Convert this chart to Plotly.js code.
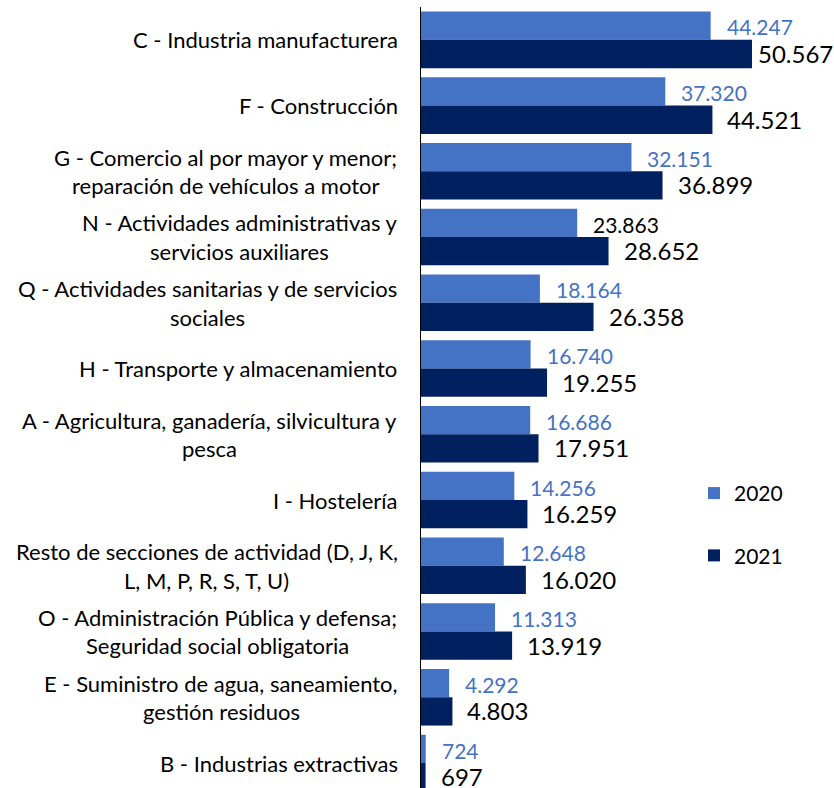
<!DOCTYPE html>
<html>
<head>
<meta charset="utf-8">
<script src="https://cdn.plot.ly/plotly-3.0.1.min.js"></script>
<style>html,body{margin:0;padding:0;background:#fff;overflow:hidden}</style>
</head>
<body>
<div id="chart" style="width:834px;height:788px"></div>
<script>
const categories = [
  "C - Industria manufacturera",
  "F - Construcción",
  "G - Comercio al por mayor y menor;<br>reparación de vehículos a motor",
  "N - Actividades administrativas y<br>servicios auxiliares",
  "Q - Actividades sanitarias y de servicios<br>sociales",
  "H - Transporte y almacenamiento",
  "A - Agricultura, ganadería, silvicultura y<br>pesca",
  "I - Hostelería",
  "Resto de secciones de actividad (D, J, K,<br>L, M, P, R, S, T, U)",
  "O - Administración Pública y defensa;<br>Seguridad social obligatoria",
  "E - Suministro de agua, saneamiento,<br>gestión residuos",
  "B - Industrias extractivas"
];
const series2020 = [44247, 37320, 32151, 23863, 18164, 16740, 16686, 14256, 12648, 11313, 4292, 724];
const series2021 = [50567, 44521, 36899, 28652, 26358, 19255, 17951, 16259, 16020, 13919, 4803, 697];
const seriesNames = ["2020", "2021"];

// styles
const W = 834, H = 788;
const margin = {l: 421, r: 1, t: 7, b: 0};
const xMax = 62940;
const col2020 = "#4472C4", col2021 = "#002060";
const labelCol2020 = series2020.map((v, i) => i === 3 ? "#000000" : col2020);
const FONT = "Lato, 'Open Sans', sans-serif";
const CAT_SIZE = 22;

function fmt(v) {
  return String(v).replace(/\B(?=(\d{3})+(?!\d))/g, ".");
}

const plotW = W - margin.l - margin.r;
const annotations = [];

// value labels
function addValueLabels(vals, colors, size, yshift, xshift) {
  vals.forEach((v, i) => {
    const txt = fmt(v);
    const endPx = v / xMax * plotW;
    const estW = txt.length * size * 0.5;
    if (endPx + xshift + estW > plotW) {
      annotations.push({xref: "paper", yref: "y", x: 1, y: categories[i], xanchor: "right",
        text: txt, showarrow: false, yshift: yshift, xshift: 2,
        font: {family: FONT, size: size, color: colors[i]}});
    } else {
      annotations.push({xref: "x", yref: "y", x: v, y: categories[i], xanchor: "left",
        text: txt, showarrow: false, xshift: xshift, yshift: yshift,
        font: {family: FONT, size: size, color: colors[i]}});
    }
  });
}
addValueLabels(series2020, labelCol2020, 21, 13, 14);
addValueLabels(series2021, series2021.map(() => "#000000"), 24, -13.5, 13);

// category labels (centered lines, block right-aligned)
const lineGap = 28.5;
categories.forEach((c) => {
  const lines = c.split("<br>");
  const n = lines.length;
  lines.forEach((ln, k) => {
    annotations.push({xref: "paper", yref: "y", x: 0, y: c, xanchor: "center",
      text: ln, showarrow: false,
      xshift: 0, yshift: ((n - 1) / 2 - k) * lineGap,
      font: {family: FONT, size: CAT_SIZE, color: "#000000"},
      _block: c});
  });
});

const traces = [
  {type: "bar", orientation: "h", name: seriesNames[0], x: series2020, y: categories,
   marker: {color: col2020}, legendgroup: "a", hoverinfo: "x+y"},
  {type: "bar", orientation: "h", name: seriesNames[1], x: series2021, y: categories,
   marker: {color: col2021}, legendgroup: "b", hoverinfo: "x+y"}
];

const layout = {
  width: W, height: H, margin: margin,
  paper_bgcolor: "#ffffff", plot_bgcolor: "#ffffff",
  barmode: "group", bargap: 0.14, bargroupgap: 0,
  font: {family: FONT, size: 19, color: "#000000"},
  xaxis: {visible: false, range: [0, xMax], fixedrange: true},
  yaxis: {type: "category", categoryarray: categories, range: [11.38, -0.5],
    showticklabels: false, showgrid: false, zeroline: false, ticks: "",
    showline: true, linecolor: "#000000", linewidth: 1.5, fixedrange: true},
  showlegend: true,
  legend: {x: 0.6626, y: 0.4034, xanchor: "left", yanchor: "top",
    font: {family: FONT, size: 21, color: "#000000"}, tracegroupgap: 32,
    bgcolor: "rgba(0,0,0,0)"},
  annotations: annotations.map(a => { const b = Object.assign({}, a); delete b._block; return b; })
};

// measure text widths to right-align each label block with centered lines
const canvas = document.createElement("canvas");
const ctx = canvas.getContext("2d");
ctx.font = CAT_SIZE + "px Lato";
const rightEdge = -23; // px from plot left
const blockW = {};
categories.forEach(c => {
  blockW[c] = Math.max(...c.split("<br>").map(l => ctx.measureText(l).width));
});
layout.annotations.forEach((a, idx) => {
  const blk = annotations[idx]._block;
  if (blk) a.xshift = rightEdge - blockW[blk] / 2;
});

Plotly.newPlot("chart", traces, layout, {displayModeBar: false, staticPlot: true});
</script>
</body>
</html>
